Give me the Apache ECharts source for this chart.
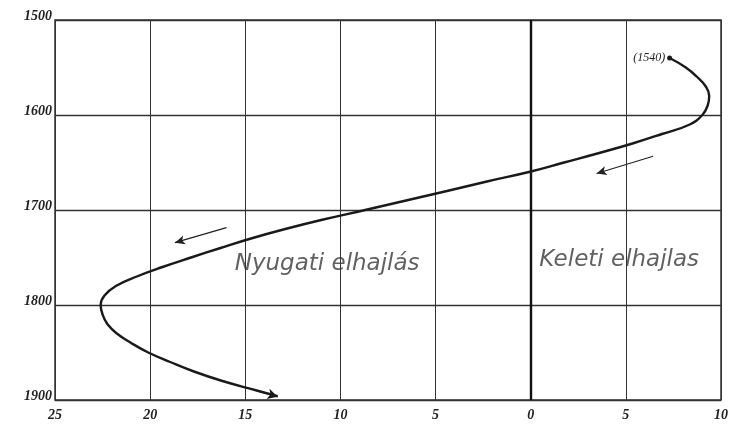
<!DOCTYPE html>
<html>
<head>
<meta charset="utf-8">
<script src="https://cdn.jsdelivr.net/npm/echarts@6/dist/echarts.min.js"></script>
<style>html,body{margin:0;padding:0;background:#fff}#c{width:750px;height:438px}</style>
</head>
<body>
<div id="c"></div>
<script>
// Data: year vs magnetic declination (west negative, east positive)
var years = [1540,1550,1560,1570,1580,1590,1600,1610,1620,1630,1640,1650,1660,1670,1680,1690,1700,1710,1720,1730,1740,1750,1760,1770,1780,1790,1800,1810,1820,1830,1840,1850,1860,1870,1880,1890,1896];
var decl  = [7.3,8.15,8.75,9.2,9.38,9.3,9.02,8.36,6.9,5.35,3.6,1.75,-0.1,-2.3,-4.4,-6.55,-8.7,-10.9,-12.9,-14.7,-16.3,-17.85,-19.35,-20.7,-21.8,-22.4,-22.6,-22.5,-22.25,-21.75,-21.0,-20.1,-18.95,-17.7,-16.2,-14.4,-13.3];
var startLabel = '(1540)';
var westText = 'Nyugati elhajlás';
var eastText = 'Keleti elhajlas';
var westTextPos = [-10.7, 1757];
var eastTextPos = [4.65, 1753];
// annotation arrows [fromDecl, fromYear, toDecl, toYear]
var arrows = [
  [6.43, 1643.4, 3.46, 1661.6],
  [-15.99, 1718.6, -18.7, 1734.4]
];
var endArrow = [-14.4, 1890, -13.3, 1896.5];

var lineData = years.map(function (y, i) {
  var item = { value: [decl[i], y] };
  if (i === 0) {
    item.symbol = 'circle';
    item.symbolSize = 5;
    item.label = {
      show: true, position: 'left', distance: 2,
      formatter: startLabel,
      fontFamily: 'Liberation Serif', fontStyle: 'italic', fontSize: 12, color: '#222'
    };
  }
  return item;
});

var chart = echarts.init(document.getElementById('c'), null, { renderer: 'canvas' });
var labelFont = { fontFamily: 'Liberation Serif', fontStyle: 'italic', fontWeight: 'bold', fontSize: 14, color: '#222' };
var textFont = { fontFamily: 'DejaVu Sans', fontStyle: 'italic', fontSize: 23, color: '#3a3a3a' };

chart.setOption({
  animation: false,
  backgroundColor: '#fff',
  grid: { left: 55, right: 29, top: 20, bottom: 38, show: true, borderColor: '#333', borderWidth: 1.5 },
  xAxis: {
    type: 'value', min: -25, max: 10, interval: 5,
    axisLine: { show: false }, axisTick: { show: false },
    axisLabel: Object.assign({ margin: 8, formatter: function (v) { return String(Math.abs(v)); } }, labelFont),
    splitLine: { show: true, lineStyle: { color: '#333', width: 1 } }
  },
  yAxis: {
    type: 'value', min: 1500, max: 1900, interval: 100, inverse: true,
    axisLine: { show: false }, axisTick: { show: false },
    axisLabel: Object.assign({ margin: 3, verticalAlign: 'bottom', padding: [0, 0, -3, 0], formatter: function (v) { return String(v); } }, labelFont),
    splitLine: { show: true, lineStyle: { color: '#333', width: 1.3 } }
  },
  series: [
    {
      type: 'line',
      data: lineData,
      smooth: 0.45,
      symbol: 'none',
      showSymbol: true,
      itemStyle: { color: '#1a1a1a' },
      lineStyle: { color: '#1a1a1a', width: 2.4 },
      z: 5,
      markLine: {
        silent: true, symbol: ['none', 'arrow'], symbolSize: [8, 10],
        label: { show: false },
        lineStyle: { color: '#1a1a1a', width: 1.5, type: 'solid' },
        data: [[{ coord: [endArrow[0], endArrow[1]] }, { coord: [endArrow[2], endArrow[3]] }]]
      }
    },
    {
      type: 'line',
      data: [],
      markLine: {
        silent: true, symbol: ['none', 'arrow'], symbolSize: [7, 10],
        label: { show: false },
        lineStyle: { color: '#222', width: 1.2, type: 'solid' },
        data: arrows.map(function (a) { return [{ coord: [a[0], a[1]] }, { coord: [a[2], a[3]] }]; })
      }
    },
    {
      type: 'line',
      data: [],
      markLine: {
        silent: true, symbol: 'none',
        label: { show: false },
        lineStyle: { color: '#111', width: 2.4, type: 'solid' },
        data: [{ xAxis: 0 }]
      }
    },
    {
      type: 'scatter',
      symbolSize: 0,
      data: [
        { value: westTextPos, label: Object.assign({ show: true, position: 'inside', formatter: westText }, textFont) },
        { value: eastTextPos, label: Object.assign({ show: true, position: 'inside', formatter: eastText }, textFont) }
      ]
    }
  ]
});
</script>
</body>
</html>
